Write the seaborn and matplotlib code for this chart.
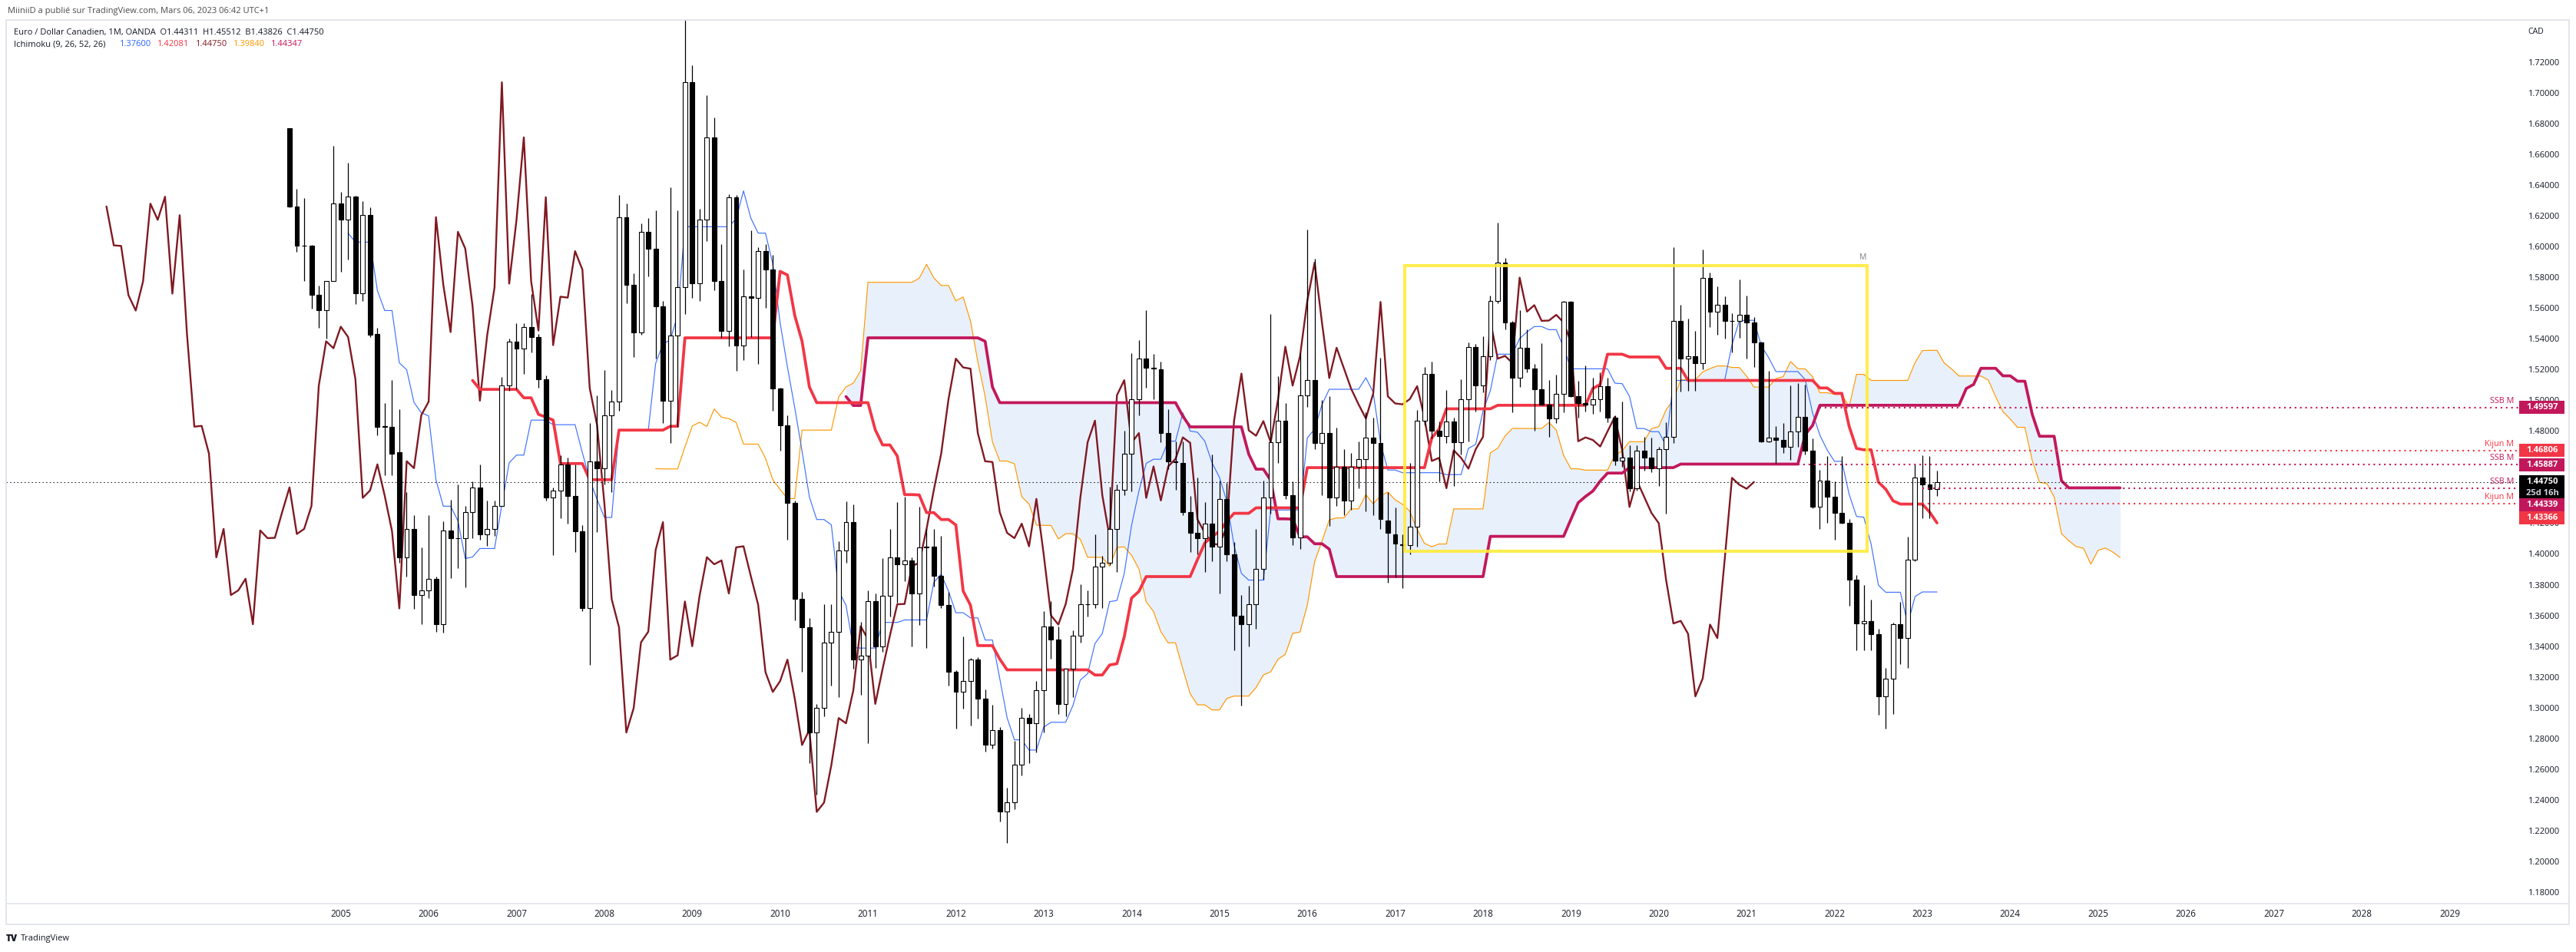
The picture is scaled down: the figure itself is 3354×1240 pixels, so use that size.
import numpy as np
import pandas as pd
import matplotlib
matplotlib.use("Agg")
import matplotlib.pyplot as plt
import seaborn as sns
from matplotlib.patches import Rectangle
from matplotlib.lines import Line2D

# ---------------- data (monthly EUR/CAD, first bar = June 2004) ----------------
opens = [
    1.6776, 1.6267, 1.6014, 1.6010, 1.5690, 1.5590, 1.5780, 1.6285, 1.6180, 1.6330,
    1.5700, 1.6210, 1.5440, 1.4835, 1.4835, 1.4670, 1.3985, 1.4170, 1.3740, 1.3770,
    1.3846, 1.3550, 1.4160, 1.4110, 1.4110, 1.4280, 1.4440, 1.4137, 1.4170, 1.4320,
    1.5102, 1.5390, 1.5345, 1.5485, 1.5418, 1.5144, 1.4372, 1.4420, 1.4590, 1.4386,
    1.4155, 1.3653, 1.4610, 1.4565, 1.4910, 1.4997, 1.6197, 1.5758, 1.5450, 1.6102,
    1.5993, 1.5618, 1.5004, 1.5430, 1.5740, 1.7074, 1.5765, 1.6180, 1.6716, 1.5780,
    1.5460, 1.6327, 1.5365, 1.5680, 1.5674, 1.5976, 1.5856, 1.5085, 1.4846, 1.4337,
    1.3713, 1.3530, 1.2846, 1.3004, 1.3432, 1.3502, 1.4032, 1.4214, 1.3320, 1.3348,
    1.3698, 1.3407, 1.3734, 1.3986, 1.3940, 1.3965, 1.3750, 1.4050, 1.4057, 1.3863,
    1.3677, 1.3239, 1.3110, 1.3180, 1.3320, 1.3067, 1.2765, 1.2863, 1.2330, 1.2390,
    1.2635, 1.2940, 1.2906, 1.3120, 1.3537, 1.3453, 1.3032, 1.3260, 1.3477, 1.3680,
    1.3682, 1.3927, 1.3950, 1.4169, 1.4425, 1.4660, 1.5014, 1.5277, 1.5220, 1.5207,
    1.4793, 1.4610, 1.4600, 1.4278, 1.4144, 1.4110, 1.4204, 1.4057, 1.4365, 1.4004,
    1.3607, 1.3548, 1.3681, 1.3910, 1.4372, 1.4734, 1.4874, 1.4390, 1.4116, 1.5039,
    1.5137, 1.4730, 1.4793, 1.4372, 1.4576, 1.4355, 1.4576, 1.4625, 1.4765, 1.4730,
    1.4225, 1.4137, 1.4070, 1.4067, 1.4186, 1.4874, 1.5180, 1.4811, 1.4776, 1.4871,
    1.4734, 1.5011, 1.5355, 1.5102, 1.5292, 1.5653, 1.5902, 1.5513, 1.5151, 1.5348,
    1.5214, 1.5080, 1.4980, 1.4888, 1.5050, 1.5646, 1.5032, 1.4986, 1.4980, 1.5014,
    1.5098, 1.4892, 1.4612, 1.4632, 1.4435, 1.4681, 1.4632, 1.4562, 1.4688, 1.4769,
    1.5523, 1.5277, 1.5295, 1.5250, 1.5804, 1.5583, 1.5625, 1.5523, 1.5525, 1.5562,
    1.5513, 1.5383, 1.4740, 1.4765, 1.4748, 1.4706, 1.4804, 1.4899, 1.4681, 1.4313,
    1.4485, 1.4379, 1.4274, 1.4207, 1.3839, 1.3555, 1.3572, 1.3488, 1.3081, 1.3197,
    1.3548, 1.3460, 1.3969, 1.4502, 1.4457, 1.44311,
]
highs = [
    1.6776, 1.6380, 1.6320, 1.6015, 1.5750, 1.5780, 1.6660, 1.6360, 1.6550, 1.6335,
    1.6300, 1.6260, 1.5480, 1.4990, 1.5140, 1.4950, 1.4410, 1.4260, 1.4050, 1.4260,
    1.3860, 1.4220, 1.4360, 1.4460, 1.4320, 1.4480, 1.4590, 1.4355, 1.4355, 1.5160,
    1.5410, 1.5510, 1.5510, 1.5695, 1.5440, 1.5170, 1.4440, 1.4650, 1.4635, 1.4590,
    1.4197, 1.4857, 1.5040, 1.5204, 1.5075, 1.6340, 1.6284, 1.5830, 1.6155, 1.6190,
    1.6240, 1.5650, 1.6390, 1.6240, 1.7540, 1.7186, 1.6250, 1.6990, 1.6846, 1.6020,
    1.6344, 1.6340, 1.5856, 1.6110, 1.6004, 1.6020, 1.5950, 1.5090, 1.4906, 1.4355,
    1.3758, 1.3590, 1.3032, 1.3680, 1.3680, 1.4092, 1.4348, 1.4330, 1.3566, 1.3770,
    1.3750, 1.3980, 1.4172, 1.4344, 1.4380, 1.3986, 1.4313, 1.4172, 1.4172, 1.4127,
    1.3758, 1.3250, 1.3470, 1.3330, 1.3337, 1.3127, 1.3028, 1.2880, 1.2485, 1.2793,
    1.3004, 1.2968, 1.3180, 1.3635, 1.3698, 1.3537, 1.3260, 1.3513, 1.3810, 1.3770,
    1.4133, 1.3993, 1.4443, 1.4460, 1.4810, 1.5313, 1.5400, 1.5593, 1.5310, 1.5260,
    1.4950, 1.4740, 1.4740, 1.4383, 1.4502, 1.4344, 1.4653, 1.4485, 1.4470, 1.4085,
    1.3740, 1.3801, 1.4168, 1.4485, 1.5565, 1.5162, 1.4986, 1.4478, 1.5313, 1.6116,
    1.5927, 1.5010, 1.5032, 1.4828, 1.4688, 1.4663, 1.4740, 1.4927, 1.4892, 1.5285,
    1.4407, 1.4309, 1.4134, 1.4600, 1.4944, 1.5225, 1.5260, 1.4871, 1.5074, 1.4892,
    1.5144, 1.5383, 1.5372, 1.5425, 1.5688, 1.6162, 1.5934, 1.5523, 1.5593, 1.5470,
    1.5242, 1.5380, 1.5137, 1.5172, 1.5653, 1.5650, 1.5133, 1.5232, 1.5155, 1.5190,
    1.5155, 1.4906, 1.4997, 1.4716, 1.4716, 1.4769, 1.4765, 1.4706, 1.4864, 1.6004,
    1.5628, 1.5540, 1.5460, 1.5986, 1.5835, 1.5747, 1.5680, 1.5572, 1.5793, 1.5688,
    1.5548, 1.5390, 1.5197, 1.4839, 1.4857, 1.5102, 1.5120, 1.5109, 1.4758, 1.4555,
    1.4646, 1.4477, 1.4646, 1.4232, 1.3870, 1.3804, 1.3712, 1.3520, 1.3267, 1.3558,
    1.3695, 1.4120, 1.4590, 1.4650, 1.4642, 1.45512,
]
lows = [
    1.6260, 1.5970, 1.5780, 1.5600, 1.5480, 1.5410, 1.5780, 1.5840, 1.5920, 1.5630,
    1.5650, 1.5420, 1.4780, 1.4520, 1.4520, 1.3950, 1.3860, 1.3650, 1.3550, 1.3720,
    1.3500, 1.3495, 1.3850, 1.3916, 1.3790, 1.4110, 1.4100, 1.4060, 1.4127, 1.4320,
    1.5070, 1.5080, 1.5180, 1.5320, 1.5090, 1.4355, 1.4000, 1.4240, 1.4204, 1.4020,
    1.3635, 1.3285, 1.4150, 1.4460, 1.4407, 1.4940, 1.5635, 1.5290, 1.5435, 1.5810,
    1.5280, 1.4860, 1.4730, 1.4835, 1.5565, 1.5670, 1.5650, 1.6040, 1.5720, 1.5415,
    1.5360, 1.5197, 1.5270, 1.5418, 1.5242, 1.5607, 1.4940, 1.4680, 1.4102, 1.3576,
    1.3240, 1.2646, 1.2442, 1.2950, 1.3150, 1.3074, 1.3950, 1.3260, 1.3090, 1.2776,
    1.3267, 1.3370, 1.3600, 1.3688, 1.3830, 1.3407, 1.3547, 1.3397, 1.3793, 1.3653,
    1.3150, 1.2870, 1.3000, 1.2890, 1.2934, 1.2723, 1.2741, 1.2267, 1.2127, 1.2348,
    1.2565, 1.2646, 1.2716, 1.2846, 1.3327, 1.2968, 1.2950, 1.3074, 1.3432, 1.3600,
    1.3653, 1.3653, 1.3934, 1.3888, 1.4390, 1.4414, 1.4910, 1.5088, 1.5014, 1.4734,
    1.4560, 1.4425, 1.4257, 1.4020, 1.4004, 1.3888, 1.3958, 1.3751, 1.3962, 1.3383,
    1.3021, 1.3407, 1.3523, 1.3839, 1.4267, 1.4600, 1.4365, 1.4064, 1.4040, 1.4962,
    1.4688, 1.4390, 1.4190, 1.4320, 1.4257, 1.4292, 1.4436, 1.4285, 1.4260, 1.4172,
    1.3821, 1.3856, 1.3786, 1.4004, 1.4057, 1.4846, 1.4758, 1.4478, 1.4730, 1.4450,
    1.4653, 1.4740, 1.4934, 1.5056, 1.5267, 1.5635, 1.5470, 1.4927, 1.5091, 1.5186,
    1.4810, 1.4980, 1.4769, 1.4857, 1.4927, 1.5030, 1.4892, 1.4934, 1.4916, 1.4934,
    1.4864, 1.4583, 1.4576, 1.4414, 1.4421, 1.4548, 1.4541, 1.4450, 1.4267, 1.4730,
    1.5063, 1.5067, 1.5067, 1.5207, 1.5485, 1.5435, 1.5407, 1.5320, 1.5414, 1.5277,
    1.5221, 1.4734, 1.4734, 1.4593, 1.4663, 1.4618, 1.4706, 1.4653, 1.4302, 1.4169,
    1.4207, 1.4099, 1.4204, 1.3670, 1.3383, 1.3383, 1.3383, 1.2962, 1.2870, 1.2968,
    1.3292, 1.3267, 1.3958, 1.4239, 1.4239, 1.43826,
]
closes = [
    1.6267, 1.6014, 1.6010, 1.5690, 1.5590, 1.5780, 1.6285, 1.6180, 1.6330, 1.5700,
    1.6210, 1.5435, 1.4835, 1.4840, 1.4660, 1.3985, 1.4170, 1.3740, 1.3770, 1.3846,
    1.3550, 1.4160, 1.4110, 1.4112, 1.4280, 1.4440, 1.4137, 1.4170, 1.4320, 1.5102,
    1.5390, 1.5345, 1.5485, 1.5418, 1.5144, 1.4372, 1.4420, 1.4590, 1.4386, 1.4155,
    1.3653, 1.4610, 1.4565, 1.4910, 1.4997, 1.6197, 1.5758, 1.5450, 1.6102, 1.5993,
    1.5618, 1.5004, 1.5430, 1.5740, 1.7074, 1.5765, 1.6180, 1.6716, 1.5780, 1.5460,
    1.6327, 1.5365, 1.5680, 1.5674, 1.5976, 1.5856, 1.5085, 1.4846, 1.4337, 1.3713,
    1.3530, 1.2846, 1.3004, 1.3432, 1.3502, 1.4032, 1.4214, 1.3320, 1.3348, 1.3698,
    1.3407, 1.3734, 1.3986, 1.3940, 1.3965, 1.3750, 1.4050, 1.4057, 1.3863, 1.3677,
    1.3239, 1.3110, 1.3180, 1.3320, 1.3067, 1.2765, 1.2863, 1.2330, 1.2390, 1.2635,
    1.2940, 1.2906, 1.3120, 1.3537, 1.3453, 1.3032, 1.3260, 1.3477, 1.3680, 1.3682,
    1.3927, 1.3950, 1.4169, 1.4425, 1.4660, 1.5014, 1.5277, 1.5220, 1.5212, 1.4793,
    1.4610, 1.4605, 1.4278, 1.4144, 1.4110, 1.4204, 1.4057, 1.4365, 1.4004, 1.3607,
    1.3548, 1.3681, 1.3910, 1.4372, 1.4734, 1.4874, 1.4390, 1.4116, 1.5039, 1.5137,
    1.4730, 1.4793, 1.4372, 1.4576, 1.4355, 1.4576, 1.4625, 1.4765, 1.4730, 1.4232,
    1.4144, 1.4074, 1.4067, 1.4186, 1.4874, 1.5180, 1.4811, 1.4776, 1.4871, 1.4734,
    1.5011, 1.5355, 1.5102, 1.5292, 1.5653, 1.5902, 1.5513, 1.5151, 1.5348, 1.5214,
    1.5080, 1.4980, 1.4888, 1.5050, 1.5646, 1.5032, 1.4986, 1.4980, 1.5014, 1.5098,
    1.4892, 1.4612, 1.4632, 1.4435, 1.4681, 1.4632, 1.4562, 1.4688, 1.4769, 1.5523,
    1.5277, 1.5295, 1.5250, 1.5804, 1.5583, 1.5625, 1.5523, 1.5525, 1.5562, 1.5513,
    1.5383, 1.4740, 1.4765, 1.4748, 1.4706, 1.4804, 1.4899, 1.4681, 1.4313, 1.4485,
    1.4379, 1.4274, 1.4207, 1.3839, 1.3555, 1.3572, 1.3488, 1.3081, 1.3197, 1.3548,
    1.3460, 1.3969, 1.4502, 1.4457, 1.4431, 1.44750,
]

year_labels = ["2005", "2006", "2007", "2008", "2009", "2010", "2011", "2012", "2013",
               "2014", "2015", "2016", "2017", "2018", "2019", "2020", "2021", "2022",
               "2023", "2024", "2025", "2026", "2027", "2028", "2029"]
price_ticks = [1.18, 1.20, 1.22, 1.24, 1.26, 1.28, 1.30, 1.32, 1.34, 1.36, 1.38, 1.40,
               1.42, 1.44, 1.46, 1.48, 1.50, 1.52, 1.54, 1.56, 1.58, 1.60, 1.62, 1.64,
               1.66, 1.68, 1.70, 1.72]

# horizontal "M" levels (value, name, first bar index)
level_values = [1.49597, 1.46806, 1.45887, 1.44339, 1.43366]
level_names = ["SSB M", "Kijun M", "SSB M", "SSB M", "Kijun M"]
level_start = [209, 216, 206, 223, 223]
last_price = 1.44750
countdown = "25d 16h"
ichi_params = (9, 26, 52, 26)

# ---------------- style ----------------
sns.set_theme(style="white")
plt.rcParams['font.family'] = ['Open Sans', 'DejaVu Sans']

W, H, DPI = 3354, 1240, 100
AX_L, AX_T, AX_R, AX_B = 8, 26, 3279, 1177
XMIN, XMAX = -38.7, 304.4
YMIN, YMAX = 1.17332, 1.74796

TENKAN_C = '#2962FF'
KIJUN_C = '#F23645'
CHIKOU_C = '#801922'
SPANA_C = '#FF9800'
SPANB_C = '#C2185B'
CLOUD_C = '#E8F0FC'
TXT_C = '#131722'
FRAME_C = '#E0E3EB'

fig = plt.figure(figsize=(W / DPI, H / DPI), dpi=DPI)
fig.patch.set_facecolor('white')
ax = fig.add_axes([AX_L / W, 1 - AX_B / H, (AX_R - AX_L) / W, (AX_B - AX_T) / H])


def fx(xp):
    return xp / W


def fy(yp):
    return 1 - yp / H


def px_y(p):
    return AX_T + (YMAX - p) / (YMAX - YMIN) * (AX_B - AX_T)


def px_x(m):
    return AX_L + (m - XMIN) / (XMAX - XMIN) * (AX_R - AX_L)


# ---------------- ichimoku ----------------
df = pd.DataFrame({'o': opens, 'h': highs, 'l': lows, 'c': closes})
n = len(df)
bars = np.arange(n)
disp = ichi_params[3] - 1
tenkan = (df.h.rolling(ichi_params[0]).max() + df.l.rolling(ichi_params[0]).min()) / 2
kijun = (df.h.rolling(ichi_params[1]).max() + df.l.rolling(ichi_params[1]).min()) / 2
span_a = (tenkan + kijun) / 2
span_b = (df.h.rolling(ichi_params[2]).max() + df.l.rolling(ichi_params[2]).min()) / 2
lead_x = bars + disp
lag_x = bars - disp

valid = (~span_a.isna()) & (~span_b.isna())
ax.fill_between(lead_x, span_a, span_b, where=valid.values, color=CLOUD_C, lw=0,
                zorder=1, interpolate=True)


def sline(xs, ys, color, lw, z, alpha=1.0):
    d = pd.DataFrame({'x': xs, 'y': np.asarray(ys, dtype=float)}).dropna()
    sns.lineplot(data=d, x='x', y='y', ax=ax, color=color, linewidth=lw, zorder=z,
                 alpha=alpha, estimator=None, sort=False, legend=False)


sline(lead_x, span_a, SPANA_C, 0.85, 2)
sline(bars, tenkan, TENKAN_C, 0.85, 2, 0.9)
sline(lag_x, df.c, CHIKOU_C, 1.7, 2)
sline(lead_x, span_b, SPANB_C, 2.7, 2)
sline(bars, kijun, KIJUN_C, 2.7, 2)

# ---------------- candles ----------------
o = df.o.values; c = df.c.values; h = df.h.values; l = df.l.values
up = c >= o
ax.vlines(bars, l, h, color='black', lw=0.9, zorder=3)
ax.bar(bars, np.abs(c - o), bottom=np.minimum(o, c), width=0.62,
       color=np.where(up, 'white', 'black'), edgecolor='black', linewidth=0.8, zorder=4)

# ---------------- drawings ----------------
box_x0, box_x1, box_y0, box_y1 = 152.3, 215.5, 1.4025, 1.5882
ax.add_patch(Rectangle((box_x0, box_y0), box_x1 - box_x0, box_y1 - box_y0, fill=False,
                       edgecolor='#FFEB3B', lw=2.9, alpha=0.9, zorder=5))
fig.text(fx(2426), fy(336), "M", ha='center', va='center', fontsize=7.5, color='#787B86')

ax.hlines(last_price, XMIN, XMAX, color=TXT_C, lw=0.75, linestyles=[(0, (1.5, 3))], zorder=6)
for val, name, st in zip(level_values, level_names, level_start):
    col = SPANB_C if name.startswith('SSB') else KIJUN_C
    ax.hlines(val, st, XMAX, color=col, lw=1.5, linestyles=[(0, (1, 2.3))], zorder=6)
    fig.text(fx(3273), fy(px_y(val) - 3), name, ha='right', va='bottom', fontsize=7.8,
             color=col)

ax.set_xlim(XMIN, XMAX)
ax.set_ylim(YMIN, YMAX)
ax.set_axis_off()

# ---------------- frame ----------------
fig.add_artist(Rectangle((fx(8), fy(1204)), (3345 - 8) / W, (1204 - 26) / H, fill=False,
                         edgecolor=FRAME_C, lw=1.3, transform=fig.transFigure))
fig.add_artist(Line2D([fx(8), fx(3345)], [fy(1177), fy(1177)], color=FRAME_C, lw=1.1,
                      transform=fig.transFigure))

# ---------------- axes texts ----------------
for t in price_ticks:
    fig.text(fx(3332), fy(px_y(t)), f"{t:.5f}", ha='right', va='center', fontsize=8,
             color=TXT_C)
fig.text(fx(3302), fy(42), "CAD", ha='center', va='center', fontsize=7.6, color=TXT_C)
for i, yl in enumerate(year_labels):
    m = 7 + 12 * i
    fig.text(fx(px_x(m)), fy(1191), yl, ha='center', va='center', fontsize=8.4, color=TXT_C)

# price axis labels (stacked like TradingView)
axis_labels = [("1.49597", 1.49597, SPANB_C), ("1.46806", 1.46806, KIJUN_C),
               ("1.45887", 1.45887, SPANB_C), ("1.44750", last_price, '#000000'),
               ("1.44339", 1.44339, SPANB_C), ("1.43366", 1.43366, KIJUN_C)]
prev_bottom = -1e9
for txt, p, col in axis_labels:
    hh = 30 if col == '#000000' else 17
    top = max(px_y(p) - 8.5, prev_bottom)
    fig.add_artist(Rectangle((fx(3280), fy(top + hh)), 59 / W, hh / H, facecolor=col,
                             edgecolor='none', transform=fig.transFigure, zorder=10))
    fig.text(fx(3310), fy(top + 8.5), txt, ha='center', va='center', fontsize=8,
             color='white', fontweight='bold', zorder=11)
    if col == '#000000':
        fig.text(fx(3310), fy(top + 23), countdown, ha='center', va='center', fontsize=8,
                 color='#D1D4DC', fontweight='bold', zorder=11)
    prev_bottom = top + hh

# ---------------- header ----------------
fig.text(fx(10), fy(15), "MiiniiD a publié sur TradingView.com, Mars 06, 2023 06:42 UTC+1",
         ha='left', va='center', fontsize=8, color='#4A4A4A')
fig.text(fx(18), fy(43),
         "Euro / Dollar Canadien, 1M, OANDA  O1.44311  H1.45512  B1.43826  C1.44750",
         ha='left', va='center', fontsize=8, color=TXT_C)
fig.text(fx(18), fy(58), "Ichimoku (9, 26, 52, 26)", ha='left', va='center', fontsize=8,
         color=TXT_C)
hdr_vals = [(f"{tenkan.iloc[-1]:.5f}", TENKAN_C, 155), (f"{kijun.iloc[-1]:.5f}", KIJUN_C, 204),
            (f"{closes[-1]:.5f}", CHIKOU_C, 254), (f"{span_a.iloc[-1]:.5f}", SPANA_C, 303),
            (f"{span_b.iloc[-1]:.5f}", SPANB_C, 352)]
hdr_text = ["1.37600", "1.42081", "1.44750", "1.39840", "1.44347"]
for (v, col, xp), t in zip(hdr_vals, hdr_text):
    fig.text(fx(xp), fy(58), t, ha='left', va='center', fontsize=8, color=col)

# ---------------- footer logo ----------------
fig.text(fx(8), fy(1223), "TV", ha='left', va='center', fontsize=8.5, color=TXT_C,
         fontweight='heavy')
fig.text(fx(27), fy(1223), "TradingView", ha='left', va='center', fontsize=8, color=TXT_C)

fig.savefig("out.png", dpi=DPI, facecolor='white')
